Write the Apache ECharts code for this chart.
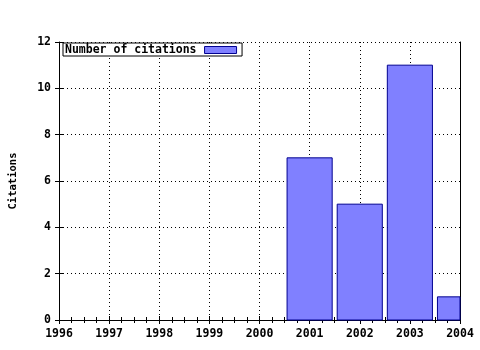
<!DOCTYPE html>
<html><head><meta charset="utf-8">
<script src="https://cdn.jsdelivr.net/npm/echarts@6/dist/echarts.min.js"></script>
<style>html,body{margin:0;padding:0;background:#fff}#c{width:480px;height:350px}</style>
</head><body><div id="c"></div>
<script>
const years = [2001, 2002, 2003, 2004];
const citations = [7, 5, 11, 1];
const seriesName = 'Number of citations';
const yTitle = 'Citations';
const xMin = 1996, xMax = 2004, yMin = 0, yMax = 12;
const barSpan = 0.9; // bar width in years

const font = {fontFamily: 'DejaVu Sans Mono', fontWeight: 'bold', fontSize: 11.5, color: '#000'};
const lineStyle = {color: '#000', width: 1};
const dotted = {show: true, lineStyle: {color: '#000', type: [1, 3], width: 1}};

const chart = echarts.init(document.getElementById('c'), null, {renderer: 'canvas'});
chart.setOption({
  animation: false,
  backgroundColor: '#fff',
  grid: {left: 58, right: 20, top: 42, bottom: 30},
  legend: {
    data: [{name: seriesName, icon: 'rect'}], left: 63, top: 43, align: 'right',
    itemWidth: 32, itemHeight: 7,
    padding: [1, 5, 0, 2],
    borderColor: '#000', borderWidth: 1, backgroundColor: '#fff',
    itemStyle: {borderWidth: 1, borderColor: '#000090'},
    textStyle: Object.assign({}, font, {padding: [0, 3, 0, 0]}),
    z: 10
  },
  xAxis: [
    {type: 'value', position: 'bottom', min: xMin, max: xMax, interval: 1,
     axisLine: {show: true, lineStyle}, axisTick: {show: true, length: 4, lineStyle},
     axisLabel: Object.assign({margin: 8, formatter: v => String(v)}, font),
     splitLine: dotted},
    {type: 'value', position: 'bottom', min: xMin, max: xMax, interval: 1,
     axisLine: {show: false}, axisTick: {show: true, inside: true, length: 4, lineStyle},
     minorTick: {show: true, splitNumber: 4, length: 3, lineStyle},
     axisLabel: {show: false}, splitLine: {show: false}},
    {type: 'value', position: 'top', min: xMin, max: xMax, interval: 1,
     axisLine: {show: true, lineStyle}, axisTick: {show: true, inside: true, length: 4, lineStyle},
     minorTick: {show: true, splitNumber: 4, length: 3, lineStyle},
     axisLabel: {show: false}, splitLine: {show: false}}
  ],
  yAxis: [
    {type: 'value', position: 'left', min: yMin, max: yMax, interval: 2,
     name: yTitle, nameLocation: 'middle', nameRotate: 90, nameGap: 40,
     nameTextStyle: Object.assign({}, font, {fontSize: 10.5}),
     axisLine: {show: true, lineStyle}, axisTick: {show: true, length: 4, lineStyle},
     axisLabel: Object.assign({margin: 8}, font),
     splitLine: dotted},
    {type: 'value', position: 'left', min: yMin, max: yMax, interval: 2,
     axisLine: {show: false}, axisTick: {show: true, inside: true, length: 4, lineStyle},
     axisLabel: {show: false}, splitLine: {show: false}},
    {type: 'value', position: 'right', min: yMin, max: yMax, interval: 2,
     axisLine: {show: true, lineStyle}, axisTick: {show: false},
     axisLabel: {show: false}, splitLine: {show: false}}
  ],
  series: [{
    name: seriesName, type: 'custom', xAxisIndex: 0, yAxisIndex: 0,
    itemStyle: {color: '#8080ff', borderColor: '#000090', borderWidth: 1},
    encode: {x: 0, y: 1},
    renderItem: function (params, api) {
      const x = api.value(0), y = api.value(1);
      const base = api.coord([x, 0]);
      const top = api.coord([x, y]);
      const w = api.size([barSpan, 0])[0];
      const cs = params.coordSys;
      const shape = echarts.graphic.clipRectByRect(
        {x: base[0] - w / 2, y: top[1], width: w, height: base[1] - top[1]},
        {x: cs.x, y: cs.y, width: cs.width, height: cs.height});
      return shape && {type: 'rect', shape: shape, style: api.style()};
    },
    data: years.map((y, i) => [y, citations[i]])
  }]
});
</script></body></html>
